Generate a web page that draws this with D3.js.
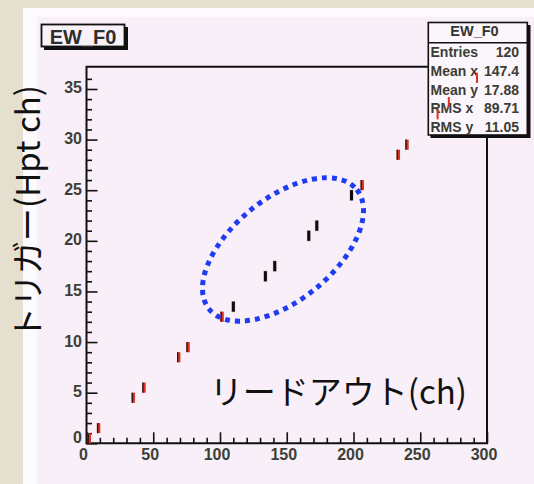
<!DOCTYPE html>
<html><head><meta charset="utf-8">
<script src="https://cdn.jsdelivr.net/npm/d3@7"></script>
<style>
html,body{margin:0;padding:0;background:#e4dfcf;}
svg{display:block;}
</style></head>
<body>
<svg id="c" width="534" height="484"></svg>
<script>
// ---- data ----
const xValues   = [2, 9, 35, 43, 69, 76, 101.5, 110, 134, 141, 166.5, 172.5, 198.5, 206.5, 233.5, 240];
const yBins     = [0, 1, 4, 5, 8, 9, 12, 13, 16, 17, 20, 21, 24, 25, 28, 29];
const pointKind = ["r","r","r","r","r","r","r","k","k","k","k","k","k","r","r","r"];
const hiddenX   = [263, 271.4, 292.5];
const hiddenY   = [32, 33.2, 35.6];
const xTicks    = [0, 50, 100, 150, 200, 250, 300];
const yTicks    = [0, 5, 10, 15, 20, 25, 30, 35];
const statLabels = ["Entries", "Mean x", "Mean y", "RMS x", "RMS y"];
const statValues = ["120", "147.4", "17.88", "89.71", "11.05"];
const histName  = "EW_F0";
const xTitle    = "リードアウト(ch)";
const yTitle    = "トリガー(Hpt ch)";
const ellipseCenter = [147.2, 19.15];

const svg = d3.select("#c");
const x = d3.scaleLinear().domain([0, 300]).range([86.5, 487]);
const y = d3.scaleLinear().domain([0, 37.2]).range([443.3, 66.7]);

// background panels
svg.append("rect").attr("x",0).attr("y",0).attr("width",534).attr("height",484).attr("fill","#e4dfcf");
svg.append("rect").attr("x",23).attr("y",8).attr("width",511).attr("height",476).attr("fill","#fcfafd");
svg.append("rect").attr("x",37).attr("y",17).attr("width",497).attr("height",467).attr("fill","#f8eff9");

const tickFont = "'Liberation Sans', Arial, sans-serif";

// x axis
const xMinor = d3.range(0, 301, 10).filter(v => v % 50 !== 0);
svg.append("g").attr("transform",`translate(0,${y(0)})`)
  .call(d3.axisBottom(x).tickValues(xMinor).tickSizeInner(-5.5).tickSizeOuter(0).tickFormat(""))
  .call(g => { g.select(".domain").remove(); g.selectAll("line").attr("stroke","#111").attr("stroke-width",1.6); });
svg.append("g").attr("transform",`translate(0,${y(0)})`)
  .call(d3.axisBottom(x).tickValues(xTicks).tickSizeInner(-11).tickSizeOuter(0).tickPadding(5))
  .call(g => {
    g.select(".domain").remove();
    g.selectAll("line").attr("stroke","#111").attr("stroke-width",1.6);
    g.selectAll("text").attr("font-family",tickFont).attr("font-weight","bold").attr("font-size",16)
      .attr("fill","#3b4036").attr("dx",-3.5);
  });

// y axis
const yMinor = d3.range(0, 37, 1).filter(v => v % 5 !== 0);
svg.append("g").attr("transform",`translate(${x(0)},0)`)
  .call(d3.axisLeft(y).tickValues(yMinor).tickSizeInner(-5.5).tickSizeOuter(0).tickFormat(""))
  .call(g => { g.select(".domain").remove(); g.selectAll("line").attr("stroke","#111").attr("stroke-width",1.6); });
svg.append("g").attr("transform",`translate(${x(0)},0)`)
  .call(d3.axisLeft(y).tickValues(yTicks).tickSizeInner(-11).tickSizeOuter(0).tickPadding(4.5))
  .call(g => {
    g.select(".domain").remove();
    g.selectAll("line").attr("stroke","#111").attr("stroke-width",1.6);
    g.selectAll("text").attr("font-family",tickFont).attr("font-weight","bold").attr("font-size",16)
      .attr("fill","#3b4036").attr("dy", d => d === 0 ? "-0.05em" : "0.25em");
  });

// frame
const frame = svg.append("g").attr("stroke","#111").attr("stroke-width",2).attr("fill","none");
frame.append("path").attr("d",
  `M${x(0)},${y(37.2)} V${y(0)} H${x(300)} V${y(37.2)} Z`);

// points
const pts = svg.append("g");
xValues.forEach((xv, i) => {
  const top = y(yBins[i] + 1), bot = y(yBins[i]);
  const cx = x(xv);
  if (pointKind[i] === "r") {
    pts.append("rect").attr("x", cx - 1.6).attr("y", top).attr("width", 3.4).attr("height", bot - top)
      .attr("fill", "#e2301f");
    pts.append("rect").attr("x", cx - 1.6).attr("y", top).attr("width", 1.3).attr("height", bot - top)
      .attr("fill", "#1a1a1a");
  } else {
    pts.append("rect").attr("x", cx - 1.9).attr("y", top - 0.5).attr("width", 3.8).attr("height", bot - top + 1)
      .attr("fill", "#888").attr("opacity", 0.5);
    pts.append("rect").attr("x", cx - 1.5).attr("y", top).attr("width", 3).attr("height", bot - top)
      .attr("fill", "#0d0d0d");
  }
});

// title box
const tb = svg.append("g");
tb.append("rect").attr("x",44).attr("y",27).attr("width",84).attr("height",23).attr("fill","#111");
tb.append("rect").attr("x",41.5).attr("y",24.5).attr("width",83).attr("height",22).attr("fill","#f9f2f9")
  .attr("stroke","#111").attr("stroke-width",1.8);
tb.append("text").attr("x",83).attr("y",43.5).attr("text-anchor","middle")
  .attr("font-family",tickFont).attr("font-weight","bold").attr("font-size",20).attr("fill","#2e2e2e")
  .text(histName);

// stats box
const sb = svg.append("g");
sb.append("rect").attr("x",430.5).attr("y",25).attr("width",100).attr("height",113).attr("fill","#111");
sb.append("rect").attr("x",428.3).attr("y",22.5).attr("width",99).attr("height",112.5).attr("fill","#fbf6fb")
  .attr("stroke","#111").attr("stroke-width",1.6);
sb.append("line").attr("x1",428.3).attr("x2",527.3).attr("y1",42.7).attr("y2",42.7).attr("stroke","#111").attr("stroke-width",1.4);
sb.append("text").attr("x",474.5).attr("y",36).attr("text-anchor","middle")
  .attr("font-family",tickFont).attr("font-weight","bold").attr("font-size",14.5).attr("fill","#333").text(histName);
statLabels.forEach((lab, i) => {
  const by = 57 + i * 18.8;
  sb.append("text").attr("x",430.5).attr("y",by).attr("font-family",tickFont).attr("font-weight","bold")
    .attr("font-size",14).attr("fill","#3a3d36").text(lab);
  sb.append("text").attr("x",519).attr("y",by).attr("text-anchor","end").attr("font-family",tickFont)
    .attr("font-weight","bold").attr("font-size",14).attr("fill","#3a3d36").text(statValues[i]);
});
// marks showing through the stats box
hiddenX.forEach((hx, i) => {
  sb.append("rect").attr("x", x(hx) - 1).attr("y", y(hiddenY[i] + 1)).attr("width", 2)
    .attr("height", y(hiddenY[i]) - y(hiddenY[i] + 1)).attr("fill", "#e2301f");
});

// dotted ellipse annotation
svg.append("g").attr("transform",`translate(${x(ellipseCenter[0])},${y(ellipseCenter[1])}) rotate(-39)`)
  .append("ellipse").attr("rx",95).attr("ry",51).attr("fill","none")
  .attr("stroke","#1f3cf2").attr("stroke-width",5).attr("stroke-dasharray","5 5");

// axis titles
const jp = "'Noto Sans CJK JP', 'Noto Sans', sans-serif";
svg.append("text").attr("x",467).attr("y",404).attr("text-anchor","end")
  .attr("font-family",jp).attr("font-size",33).attr("fill","#111").text(xTitle);
svg.append("text").attr("transform","translate(40,212.5) rotate(-90)").attr("text-anchor","middle")
  .attr("font-family",jp).attr("font-size",33).attr("fill","#111").text(yTitle);
</script>
</body></html>
